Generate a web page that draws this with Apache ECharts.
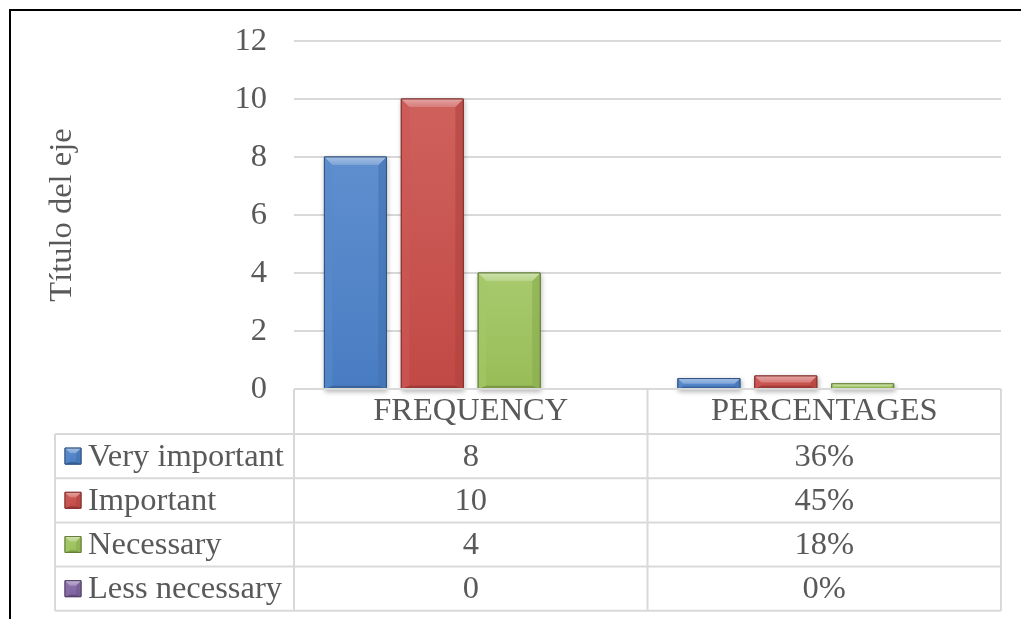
<!DOCTYPE html>
<html>
<head>
<meta charset="utf-8">
<style>
  html, body { margin: 0; padding: 0; background: #ffffff; }
  #chart { width: 1021px; height: 619px; }
</style>
<script src="https://cdn.jsdelivr.net/npm/echarts@6/dist/echarts.min.js"></script>
</head>
<body>
<div id="chart"></div>
<script>
// ---- data ----
const categories = ['FREQUENCY', 'PERCENTAGES'];
const seriesNames = ['Very important', 'Important', 'Necessary', 'Less necessary'];
const frequency = [8, 10, 4, 0];
const percentages = [0.36, 0.45, 0.18, 0];
const yTicks = { min: 0, max: 12, step: 2 };
const axisTitle = 'Título del eje';

// ---- style ----
const FONT = "'Liberation Serif', 'Times New Roman', serif";
const FS = 32.5;
const TEXT = '#595959';
const LINE = '#d9d9d9';
const COLORS = ['#4a80c8', '#c84b47', '#9cc35a', '#8064a2'];
const GRID = { left: 294, right: 20, top: 41, bottom: 230 };
const BAR_FRAC = 0.1754;   // bar width as share of the category band
const GAP_FRAC = 0.24;     // gap between bars as share of bar width
const ROW_H = 44.2;
const HEAD_H = 45;
const LABEL_COL_LEFT = 55;

function mix(hex, target, t) {
  const a = parseInt(hex.slice(1), 16);
  const r = (a >> 16) & 255, g = (a >> 8) & 255, b = a & 255;
  const m = (c) => Math.round(c + (target - c) * t);
  return 'rgb(' + m(r) + ',' + m(g) + ',' + m(b) + ')';
}

// bevelled block (body + lit top + shaded sides/bottom)
function bevel(x0, y0, w, h, color, bMax, withShadow) {
  const x1 = x0 + w, y1 = y0 + h;
  const b = Math.min(bMax, h / 2, w / 2);
  const bb = Math.min(bMax * 0.4, h / 4);
  return [
    { type: 'rect', shape: { x: x0, y: y0, width: w, height: h },
      style: { fill: color, stroke: mix(color, 0, 0.35), lineWidth: 1,
        shadowBlur: withShadow ? 5 : 0, shadowOffsetY: withShadow ? 2 : 0, shadowOffsetX: withShadow ? 1 : 0,
        shadowColor: 'rgba(0,0,0,0.3)' } },
    { type: 'rect', shape: { x: x0, y: y0, width: w, height: h },
      style: { fill: new echarts.graphic.LinearGradient(0, 0, 0, 1, [
        { offset: 0, color: mix(color, 255, 0.12) }, { offset: 1, color: mix(color, 0, 0.03) }]) } },
    { type: 'polygon', shape: { points: [[x0, y0], [x0 + b, y0 + b], [x0 + b, y1 - bb], [x0, y1]] },
      style: { fill: mix(color, 255, 0.08), opacity: 0.6 } },
    { type: 'polygon', shape: { points: [[x1, y0], [x1, y1], [x1 - b, y1 - bb], [x1 - b, y0 + b]] },
      style: { fill: mix(color, 0, 0.12), opacity: 0.6 } },
    { type: 'polygon', shape: { points: [[x0, y1], [x0 + b, y1 - bb], [x1 - b, y1 - bb], [x1, y1]] },
      style: { fill: mix(color, 0, 0.22) } },
    { type: 'polygon', shape: { points: [[x0, y0], [x1, y0], [x1 - b, y0 + b], [x0 + b, y0 + b]] },
      style: { fill: new echarts.graphic.LinearGradient(0, 0, 0, 1, [
        { offset: 0, color: mix(color, 255, 0.5) }, { offset: 1, color: mix(color, 255, 0.28) }]) } },
    { type: 'rect', shape: { x: x0, y: y0, width: w, height: h },
      style: { fill: 'none', stroke: mix(color, 0, 0.35), lineWidth: 1 } }
  ];
}

function barRenderer(si) {
  return function (params, api) {
    const cat = api.value(0), val = api.value(1);
    if (!(val > 0)) return null;
    const base = api.coord([cat, 0]);
    const top = api.coord([cat, val]);
    const band = api.size([1, 0])[0];
    const w = band * BAR_FRAC, gap = w * GAP_FRAC;
    const n = seriesNames.length;
    const total = n * w + (n - 1) * gap;
    const x0 = base[0] - total / 2 + si * (w + gap);
    return { type: 'group', children: bevel(x0, top[1], w, base[1] - top[1], COLORS[si], 8, true) };
  };
}

const chart = echarts.init(document.getElementById('chart'), null, { renderer: 'canvas' });

const series = seriesNames.map((name, i) => ({
  name: name,
  type: 'custom',
  renderItem: barRenderer(i),
  encode: { x: 0, y: 1 },
  data: [[0, frequency[i]], [1, percentages[i]]],
  z: 3
}));

chart.setOption({
  animation: false,
  textStyle: { fontFamily: FONT },
  grid: GRID,
  xAxis: {
    type: 'category',
    data: categories,
    axisLine: { show: false },
    axisTick: { show: false },
    axisLabel: { color: TEXT, fontSize: FS, fontFamily: FONT, margin: 0, lineHeight: HEAD_H, verticalAlign: 'top' },
    splitLine: { show: false }
  },
  yAxis: {
    type: 'value',
    min: yTicks.min, max: yTicks.max, interval: yTicks.step,
    name: axisTitle,
    nameLocation: 'middle',
    nameRotate: 90,
    nameGap: 215,
    nameTextStyle: { color: TEXT, fontSize: FS, fontFamily: FONT },
    axisLine: { show: false },
    axisTick: { show: false },
    axisLabel: { color: TEXT, fontSize: FS, fontFamily: FONT, margin: 27 },
    splitLine: { lineStyle: { color: LINE, width: 2 } }
  },
  series: series
});

// ---- data table under the plot, aligned to the category axis ----
function buildTable() {
  const colCenters = categories.map((c, i) => chart.convertToPixel({ xAxisIndex: 0 }, i));
  const yZero = chart.convertToPixel({ yAxisIndex: 0 }, yTicks.min);
  const plotLeft = GRID.left, plotRight = chart.getWidth() - GRID.right;
  const band = (plotRight - plotLeft) / categories.length;
  const rowsTop = yZero + HEAD_H;
  const bottom = rowsTop + ROW_H * seriesNames.length;
  const g = [];
  const line = (x1, y1, x2, y2) => g.push({ type: 'line', shape: { x1, y1, x2, y2 },
    style: { stroke: LINE, lineWidth: 2 }, z: 5 });

  // outer frame of the chart area
  g.push({ type: 'polyline', shape: { points: [[10, chart.getHeight() + 2], [10, 10], [chart.getWidth() + 2, 10]] },
    style: { stroke: '#000000', lineWidth: 2, fill: 'none' }, z: 10 });

  line(plotLeft, yZero, plotRight, yZero);
  for (let r = 0; r <= seriesNames.length; r++) {
    line(LABEL_COL_LEFT, rowsTop + r * ROW_H, plotRight, rowsTop + r * ROW_H);
  }
  line(LABEL_COL_LEFT, rowsTop, LABEL_COL_LEFT, bottom);
  for (let c = 0; c <= categories.length; c++) {
    line(plotLeft + c * band, yZero, plotLeft + c * band, bottom);
  }

  const textStyle = { fill: TEXT, fontSize: FS, fontFamily: FONT, verticalAlign: 'middle' };
  seriesNames.forEach((name, i) => {
    const cy = rowsTop + ROW_H * (i + 0.5);
    g.push({ type: 'group', children: bevel(LABEL_COL_LEFT + 10, cy - 8, 16, 16, COLORS[i], 5, false), z: 6 });
    g.push({ type: 'text', x: LABEL_COL_LEFT + 33, y: cy + 1,
      style: Object.assign({ text: name, align: 'left' }, textStyle), z: 6 });
    g.push({ type: 'text', x: colCenters[0], y: cy + 1,
      style: Object.assign({ text: String(frequency[i]), align: 'center' }, textStyle), z: 6 });
    g.push({ type: 'text', x: colCenters[1], y: cy + 1,
      style: Object.assign({ text: Math.round(percentages[i] * 100) + '%', align: 'center' }, textStyle), z: 6 });
  });
  chart.setOption({ graphic: { elements: g } });
}
buildTable();
</script>
</body>
</html>
